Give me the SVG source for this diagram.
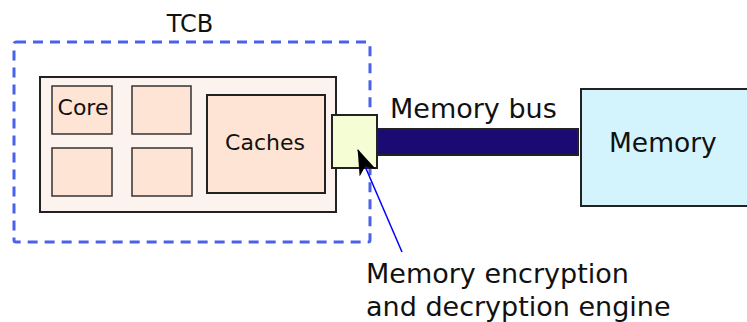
<svg xmlns="http://www.w3.org/2000/svg" width="747" height="322" viewBox="0 0 747 322">
<style>
text{font-family:"DejaVu Sans","Liberation Sans",sans-serif;fill:#111}
.sub{fill:#fde4d4;stroke:#333;stroke-width:1.5}
.blk{stroke:#222;stroke-width:2}
</style>
<defs>
<marker id="ah" viewBox="0 0 26 18" refX="25" refY="9" markerWidth="26" markerHeight="18" markerUnits="userSpaceOnUse" orient="auto">
<path d="M26,9 L0,0 L7,9 L0,18 Z" fill="#000"/>
</marker>
</defs>
<rect width="747" height="322" fill="#fff"/>
<g id="tcb">
<rect x="14" y="42" width="356" height="200" rx="2" fill="none" stroke="#4a62e8" stroke-width="3" stroke-dasharray="10,7"/>
<text x="190" y="32" font-size="24" text-anchor="middle">TCB</text>
</g>
<g id="chip">
<rect x="40" y="77" width="296" height="135" fill="#fdf3ee" class="blk"/>
</g>
<g id="core">
<rect x="52" y="86" width="60" height="48" class="sub"/>
<text x="83" y="115" font-size="22" text-anchor="middle">Core</text>
</g>
<g id="core2"><rect x="132" y="86" width="59" height="48" class="sub"/></g>
<g id="core3"><rect x="52" y="148" width="60" height="48" class="sub"/></g>
<g id="core4"><rect x="132" y="148" width="60" height="48" class="sub"/></g>
<g id="caches">
<rect x="207" y="95" width="118" height="98" fill="#fde4d4" class="blk"/>
<text x="265" y="150" font-size="22" text-anchor="middle">Caches</text>
</g>
<g id="bus">
<rect x="376" y="129" width="202" height="26" fill="#1a0a72" class="blk"/>
<text x="390" y="118" font-size="27">Memory bus</text>
</g>
<g id="engine">
<rect x="332" y="115" width="45" height="53" fill="#f4fdd4" class="blk"/>
</g>
<g id="memory">
<rect x="581" y="89" width="170" height="117" fill="#d4f4fd" class="blk"/>
<text x="609" y="152" font-size="26.5">Memory</text>
</g>
<g id="label">
<text x="366" y="283" font-size="27">Memory encryption</text>
<text x="366" y="316" font-size="27">and decryption engine</text>
</g>
<g id="connectors">
<line x1="402" y1="252" x2="358" y2="150" stroke="#0000ff" stroke-width="1.5" marker-end="url(#ah)"/>
</g>
</svg>
